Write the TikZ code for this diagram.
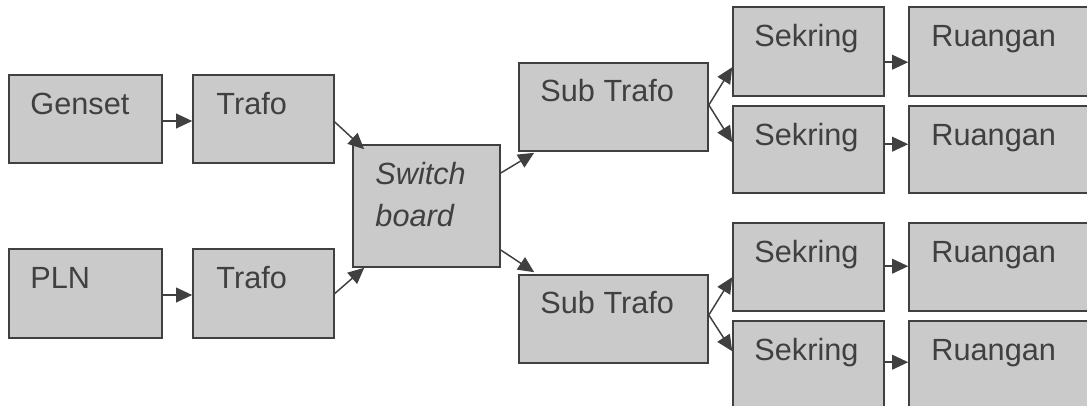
\documentclass[tikz,border=0pt]{standalone}
\usepackage{fontspec}
\setmainfont{Liberation Sans}
\usetikzlibrary{fit,calc,arrows.meta}
\definecolor{boxfill}{HTML}{CACACA}
\definecolor{edge}{HTML}{404040}
\tikzset{
  box/.style={draw=edge, fill=boxfill, line width=1.2pt, inner sep=0pt, rectangle},
  txt/.style={text=edge, font=\fontsize{23}{28}\selectfont, anchor=base west, inner sep=0pt},
  arr/.style={draw=edge, line width=1.1pt, -{Triangle[length=12pt,width=11pt]}}
}
\newcommand{\mybox}[5]{\node[box, fit={(#2,#3) (#4,#5)}] (#1) {};}
\begin{document}
\begin{tikzpicture}[x=0.75pt,y=-0.75pt]
\useasboundingbox (0,0) rectangle (1087,405);
\fill[white] (0,0) rectangle (1087,405);
\clip (0,0) rectangle (1087,405);
\mybox{genset}{9}{75}{162}{163}
\mybox{trafoA}{193}{75}{334}{163}
\mybox{pln}{9}{249}{162}{338}
\mybox{trafoB}{193}{249}{334}{338}
\mybox{sw}{353}{145}{500}{267}
\mybox{subA}{519}{63}{708}{151}
\mybox{subB}{519}{275}{708}{363}
\mybox{sekA}{733}{7}{884}{96}
\mybox{sekB}{733}{106}{884}{193}
\mybox{sekC}{733}{223}{884}{311}
\mybox{sekD}{733}{321}{884}{430}
\mybox{ruA}{909}{7}{1110}{96}
\mybox{ruB}{909}{106}{1110}{193}
\mybox{ruC}{909}{223}{1110}{311}
\mybox{ruD}{909}{321}{1110}{430}
\node[txt] (gensetT) at ($(genset.north west)+(22,40)$) {Genset};
\node[txt] (trafoAT) at ($(trafoA.north west)+(24,40)$) {Trafo};
\node[txt] (plnT) at ($(pln.north west)+(22,40)$) {PLN};
\node[txt] (trafoBT) at ($(trafoB.north west)+(24,40)$) {Trafo};
\node[txt, font=\fontsize{23}{28}\selectfont\itshape] (swT1) at ($(sw.north west)+(23,40)$) {Switch};
\node[txt, font=\fontsize{23}{28}\selectfont\itshape] (swT2) at ($(sw.north west)+(23,82)$) {board};
\node[txt] (subAT) at ($(subA.north west)+(22,39)$) {Sub Trafo};
\node[txt] (subBT) at ($(subB.north west)+(22,39)$) {Sub Trafo};
\node[txt] (sekAT) at ($(sekA.north west)+(22,40)$) {Sekring};
\node[txt] (sekBT) at ($(sekB.north west)+(22,40)$) {Sekring};
\node[txt] (sekCT) at ($(sekC.north west)+(22,40)$) {Sekring};
\node[txt] (sekDT) at ($(sekD.north west)+(22,40)$) {Sekring};
\node[txt] (ruAT) at ($(ruA.north west)+(23,40)$) {Ruangan};
\node[txt] (ruBT) at ($(ruB.north west)+(23,40)$) {Ruangan};
\node[txt] (ruCT) at ($(ruC.north west)+(23,40)$) {Ruangan};
\node[txt] (ruDT) at ($(ruD.north west)+(23,40)$) {Ruangan};
% connectors
\draw[arr] ($(genset.east)+(0,2)$) -- ($(trafoA.west)+(0,2)$);
\draw[arr] ($(pln.east)+(0,1.5)$) -- ($(trafoB.west)+(0,1.5)$);
\draw[arr] ($(trafoA.east)+(0,3)$) -- ($(sw.north west)+(12,5)$);
\draw[arr] ($(trafoB.east)+(0,0)$) -- ($(sw.south west)+(12,0)$);
\draw[arr] ($(sw.east)+(0,-33)$) -- ($(subA.south west)+(16,1)$);
\draw[arr] ($(sw.east)+(0,44)$) -- ($(subB.north west)+(16,-2)$);
\draw[arr] ($(subA.east)+(0,-2)$) -- ($(sekA.north west)+(0,61)$);
\draw[arr] ($(subA.east)+(0,-2)$) -- ($(sekB.north west)+(0,37)$);
\draw[arr] ($(subB.east)+(0,-4)$) -- ($(sekC.north west)+(0,55)$);
\draw[arr] ($(subB.east)+(0,-4)$) -- ($(sekD.north west)+(0,31)$);
\draw[arr] ($(sekA.north east)+(0,56)$) -- ($(ruA.north west)+(0,56)$);
\draw[arr] ($(sekB.north east)+(0,39)$) -- ($(ruB.north west)+(0,39)$);
\draw[arr] ($(sekC.north east)+(0,44)$) -- ($(ruC.north west)+(0,44)$);
\draw[arr] ($(sekD.north east)+(0,42)$) -- ($(ruD.north west)+(0,42)$);
\end{tikzpicture}
\end{document}
